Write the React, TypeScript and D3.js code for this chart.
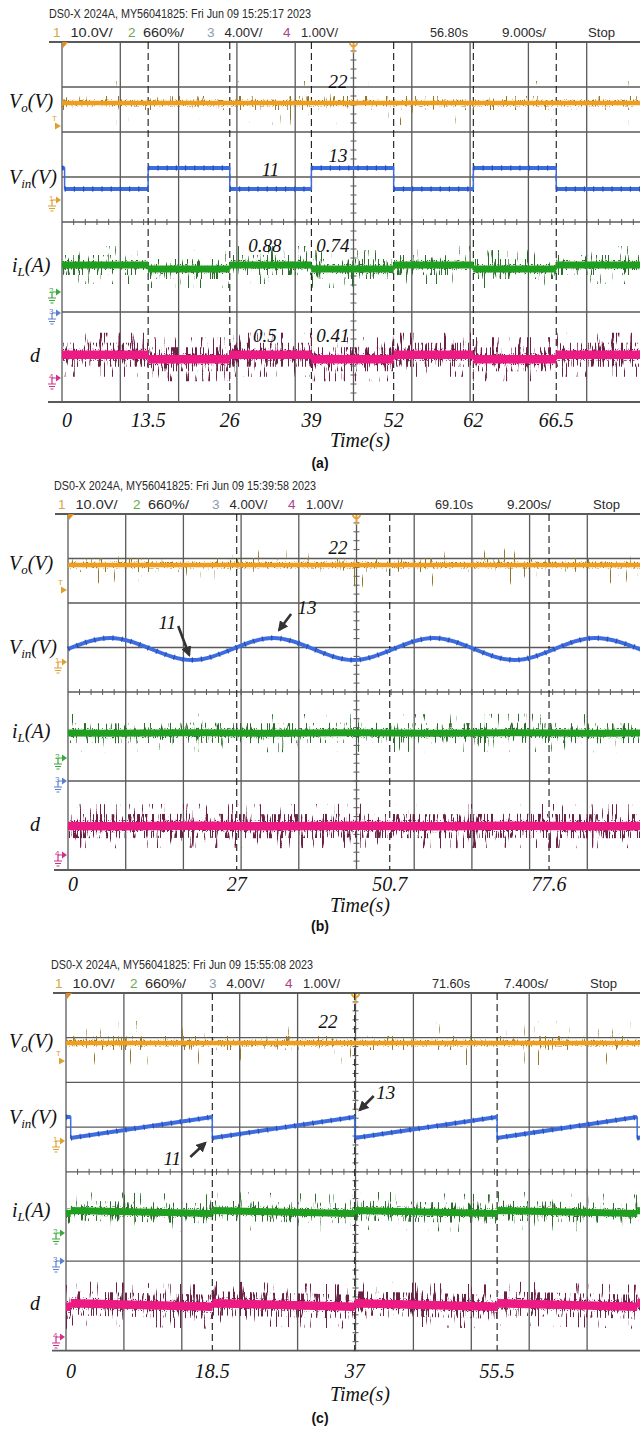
import React from "react";
import * as d3 from "d3";

// ---------- values read from the three scope captures ----------

// (a) step change of the input voltage
const aTimes = [0, 0.4, 13.3, 25.9, 38.5, 51.2, 63.5, 76.3, 90];
const aVin = [13, 11, 13, 11, 13, 11, 13, 11, 11];
const aIL = [0.88, 0.88, 0.74, 0.88, 0.74, 0.88, 0.74, 0.88, 0.88];
const aDuty = [0.5, 0.5, 0.41, 0.5, 0.41, 0.5, 0.41, 0.5, 0.5];
const aMarks = [13.3, 25.9, 38.5, 51.2, 63.5, 76.3];
const aMarkLabels = ["13.5", "26", "39", "52", "62", "66.5"];

// (b) sinusoidal input voltage (extrema)
const bTimes = [0, 6.7, 19.8, 32.7, 45.5, 58.3, 71.2, 84.0, 92];
const bVin = [12, 13, 11, 13, 11, 13, 11, 13, 11.8];
const bIL = [0.81, 0.8, 0.82, 0.8, 0.82, 0.8, 0.82, 0.8, 0.81];
const bDuty = [0.455, 0.45, 0.46, 0.45, 0.46, 0.45, 0.46, 0.45, 0.455];
const bMarks = [26.9, 51.3, 76.7];
const bMarkLabels = ["27", "50.7", "77.6"];

// (c) sawtooth input voltage
const cTimes = [0, 0.6, 0.6, 18.7, 18.7, 36.9, 36.9, 55.1, 55.1, 73.0, 73.0, 74];
const cVin = [13, 13, 11, 13, 11, 13, 11, 13, 11, 13, 11, 11.1];
const cIL = [0.74, 0.74, 0.88, 0.74, 0.88, 0.74, 0.88, 0.74, 0.88, 0.74, 0.88, 0.87];
const cDuty = [0.41, 0.41, 0.5, 0.41, 0.5, 0.41, 0.5, 0.41, 0.5, 0.41, 0.5, 0.49];
const cMarks = [18.7, 36.9, 55.1];
const cMarkLabels = ["18.5", "37", "55.5"];

const outputVoltage = 22;

const headerLines = [
  "DS0-X 2024A, MY56041825: Fri Jun 09 15:25:17 2023",
  "DS0-X 2024A, MY56041825: Fri Jun 09 15:39:58 2023",
  "DS0-X 2024A, MY56041825: Fri Jun 09 15:55:08 2023",
];
const channelScales = ["10.0V/", "660%/", "4.00V/", "1.00V/"];
const delays = ["56.80s", "69.10s", "71.60s"];
const timebases = ["9.000s/", "9.200s/", "7.400s/"];
const timePerDiv = [9, 9.2, 7.4];
const panelTags = ["(a)", "(b)", "(c)"];

const series = [
  { times: aTimes, vin: aVin, il: aIL, duty: aDuty, marks: aMarks, markLabels: aMarkLabels, curve: "step" },
  { times: bTimes, vin: bVin, il: bIL, duty: bDuty, marks: bMarks, markLabels: bMarkLabels, curve: "smooth" },
  { times: cTimes, vin: cVin, il: cIL, duty: cDuty, marks: cMarks, markLabels: cMarkLabels, curve: "linear" },
];

// ---------- layout ----------
const SERIF = '"Liberation Serif", "Times New Roman", Times, serif';
const NARROW = '"Liberation Sans Narrow", "Arial Narrow", "Liberation Sans", Arial, sans-serif';

const layout = [
  { top: 42, divH: 45, left: 62, divW: 58.3, yVo: 103, yVin: 178.5, yIL: 267, yD: 357, vinPx: 10.5, ilPx: 28, dPx: 50,
    markers: [126, 200, 292, 313, 378], dx: 0, tickDy: 25, timeDy: 45, tagDy: 66, vo22: [338, 88], vinLab: 0 },
  { top: 514, divH: 44.5, left: 68, divW: 57.7, yVin: 649, yVo: 565, yIL: 733, yD: 826, vinPx: 11, ilPx: 28, dPx: 50,
    markers: [590, 662, 758, 781, 855], dx: 5, tickDy: 21, timeDy: 42, tagDy: 61, vo22: [338, 554], vinLab: 0 },
  { top: 993, divH: 44.7, left: 66, divW: 57.9, yVo: 1043, yVin: 1127.5, yIL: 1212, yD: 1305, vinPx: 10.5, ilPx: 20, dPx: 40,
    markers: [1061, 1141, 1233, 1261, 1337], dx: 2, tickDy: 27, timeDy: 50, tagDy: 72, vo22: [328, 1028], vinLab: -9 },
];

const traceStyle = {
  vo: { color: "#f09c1e", dark: "#94782a", core: 4.5, fuzzW: 7, fuzzThr: 0.56, s1W: 14, s1Thr: 0.68, s2W: 44, s2Thr: 0.76 },
  vin: { color: "#3d6de0", dark: "#22409c", core: 4 },
  il: { color: "#1f9e1f", dark: "#2c6c2c", core: 7, fuzzW: 10, fuzzThr: 0.56, s1W: 20, s1Thr: 0.62, s2W: 38, s2Thr: 0.71 },
  d: { color: "#ec1a82", dark: "#6c2147", core: 8.5, fuzzW: 12, fuzzThr: 0.55, s1W: 24, s1Thr: 0.57, s2W: 44, s2Thr: 0.66 },
};

const markerColors = ["#e0a030", "#e0a030", "#3aa83a", "#5a7fd0", "#d0308a"];
const markerText = ["T", "1", "2", "3", "4"];

function Noise({ id, y0, freq, seed, thr, slope }: any) {
  return (
    <filter id={id} filterUnits="userSpaceOnUse" primitiveUnits="userSpaceOnUse"
      x={0} y={y0 - 45} width={640} height={90} colorInterpolationFilters="sRGB">
      <feTurbulence type="fractalNoise" baseFrequency={freq} numOctaves={2} seed={seed} result="n" />
      <feColorMatrix in="n" type="matrix" values="0 0 0 0 0  0 0 0 0 0  0 0 0 0 0  1 0 0 0 0" result="r" />
      <feComponentTransfer in="r" result="m">
        <feFuncA type="linear" slope={slope} intercept={-slope * thr} />
      </feComponentTransfer>
      <feComposite in="SourceGraphic" in2="m" operator="in" />
    </filter>
  );
}

function Trace({ id, times, values, x, y, curve, st, yc, seed }: any) {
  const pts = times.map((t: number, i: number) => [x(t), y(values[i])] as [number, number]);
  const gen = d3.line().curve(curve === "smooth" ? d3.curveMonotoneX : curve === "step" ? d3.curveStepAfter : d3.curveLinear);
  const full = gen(pts) || "";
  // the wide band follows the trace in time, the jumps stay hairline
  let band = "";
  if (curve === "smooth") band = full;
  else {
    for (let i = 0; i < pts.length - 1; i++) {
      const [x0, y0] = pts[i];
      const [x1, y1] = pts[i + 1];
      if (curve === "step") band += `M${x0},${y0}H${x1}`;
      else if (x1 > x0) band += `M${x0},${y0}L${x1},${y1}`;
    }
  }
  return (
    <g fill="none">
      {st.s1W && (
        <defs>
          <Noise id={`${id}-s2`} y0={yc} freq="0.5 0.022" seed={seed} thr={st.s2Thr} slope={20} />
          <Noise id={`${id}-s1`} y0={yc} freq="0.6 0.035" seed={seed + 1} thr={st.s1Thr} slope={20} />
          <Noise id={`${id}-fz`} y0={yc} freq="0.9 0.5" seed={seed + 2} thr={st.fuzzThr} slope={12} />
        </defs>
      )}
      {st.s1W && <path d={band} stroke={st.dark} strokeWidth={st.s2W} filter={`url(#${id}-s2)`} />}
      {st.s1W && <path d={band} stroke={st.dark} strokeWidth={st.s1W} filter={`url(#${id}-s1)`} />}
      {st.s1W && <path d={band} stroke={st.dark} strokeWidth={st.fuzzW} filter={`url(#${id}-fz)`} />}
      <path d={band} stroke={st.color} strokeWidth={st.core} />
      <path d={full} stroke={st.color} strokeWidth={1.5} />
      {!st.s1W && (
        <path d={band} stroke={st.dark} strokeWidth={st.core + 1.5} strokeDasharray="1.2 8" opacity={0.75} />
      )}
    </g>
  );
}

function GroundMarker({ x, y, color, label, kind }: any) {
  if (kind === "T") {
    return (
      <g fill={color}>
        <text x={x - 9} y={y - 5} fontSize={8} fontFamily="Liberation Sans, Arial, sans-serif">{label}</text>
        <path d={`M${x - 6},${y - 3.5}L${x},${y}L${x - 6},${y + 3.5}Z`} />
      </g>
    );
  }
  return (
    <g>
      <text x={x - 12} y={y + 1} fontSize={8} fill={color} fontFamily="Liberation Sans, Arial, sans-serif">{label}</text>
      <path d={`M${x - 5},${y - 3.5}L${x},${y}L${x - 5},${y + 3.5}Z`} fill={color} />
      <path d={`M${x - 9},${y}H${x - 4}M${x - 9},${y}V${y + 6}M${x - 13},${y + 6}H${x - 5}M${x - 12},${y + 8.5}H${x - 6}M${x - 10.5},${y + 11}H${x - 7.5}`}
        stroke={color} strokeWidth={1.2} fill="none" />
    </g>
  );
}

function Panel({ i }: { i: number }) {
  const L = layout[i];
  const s = series[i];
  const tMax = timePerDiv[i] * 10;
  const x = d3.scaleLinear().domain([0, tMax]).range([L.left, L.left + 10 * L.divW]);
  const row = (r: number) => L.top + r * L.divH;
  const bottom = row(8);
  const cx = x(tMax / 2);
  const cy = row(4);

  const yVo = d3.scaleLinear().domain([outputVoltage, outputVoltage + 10]).range([L.yVo, L.yVo - L.divH]);
  const yVin = d3.scaleLinear().domain([12, 13]).range([L.yVin, L.yVin - L.vinPx]);
  const yIL = d3.scaleLinear().domain([0.81, 0.91]).range([L.yIL, L.yIL - L.ilPx * 0.1]);
  const yD = d3.scaleLinear().domain([0.455, 0.555]).range([L.yD, L.yD - L.dPx * 0.1]);

  const cols = d3.range(0, 10).map((k) => x(k * timePerDiv[i]));
  const rows = [0, 1, 2, 3, 4, 6, 8];
  const hTicks = d3.range(-25, 26).map((k) => cx + (k * L.divW) / 5).filter((v) => v > L.left && v < 640);
  const vTicks = d3.range(-20, 21).map((k) => cy + (k * L.divH) / 5);

  const hdr = [
    { t: "1", x: 53, c: "#d9a441" },
    { t: channelScales[0], x: 70.5, w: 42 },
    { t: "2", x: 128, c: "#6aa84f" },
    { t: channelScales[1], x: 143, w: 41 },
    { t: "3", x: 207, c: "#8c9bb0" },
    { t: channelScales[2], x: 224.5, w: 38 },
    { t: "4", x: 283, c: "#a8448e" },
    { t: channelScales[3], x: 301, w: 37 },
    { t: delays[i], x: 430, w: 38 },
    { t: timebases[i], x: 502, w: 44 },
    { t: "Stop", x: 588, w: 27 },
  ];

  const voTimes = [0, tMax];
  const voVals = [outputVoltage, outputVoltage];
  const seed = i * 20 + 3;

  return (
    <g>
      {/* header */}
      <text x={49 + L.dx} y={L.top - 24} fontFamily={NARROW} fontSize={12.5} fill="#2a2a2a"
        textLength={262} lengthAdjust="spacingAndGlyphs">{headerLines[i]}</text>
      {hdr.map((h, k) => (
        <text key={k} x={h.x + L.dx} y={L.top - 5.5} fontFamily={NARROW} fontSize={13.5} fill={h.c || "#2a2a2a"}
          {...(h.w ? { textLength: h.w, lengthAdjust: "spacingAndGlyphs" } : {})}>{h.t}</text>
      ))}

      {/* graticule */}
      <g stroke="#5a5a5a" strokeWidth={1.3}>
        {cols.map((cxv, k) => (
          <line key={k} x1={cxv} x2={cxv} y1={L.top} y2={bottom} />
        ))}
        {rows.map((r) => (
          <line key={r} x1={r === 0 ? L.left - 13 : r === 8 ? L.left - 14 : L.left} x2={640} y1={row(r)} y2={row(r)}
            strokeWidth={r === 0 || r === 8 ? 1.8 : 1.3} />
        ))}
        {hTicks.map((v, k) => (
          <line key={`h${k}`} x1={v} x2={v} y1={cy - 3} y2={cy + 3} strokeWidth={1} />
        ))}
        {vTicks.map((v, k) => (
          <line key={`v${k}`} x1={cx - 3} x2={cx + 3} y1={v} y2={v} strokeWidth={1} />
        ))}
      </g>
      <path d={`M${L.left},${L.top}L${L.left + 6},${L.top}L${L.left + 1},${L.top + 6}Z`} fill="#e88a1a" />
      <path d={`M${cx - 4},${L.top + 1}Q${cx},${L.top + 8} ${cx + 4},${L.top + 1}M${cx},${L.top + 1}V${L.top + 11}`}
        stroke="#e8a030" strokeWidth={1.6} fill="none" />

      {/* event markers */}
      {s.marks.map((t, k) => (
        <line key={k} x1={x(t)} x2={x(t)} y1={L.top} y2={bottom} stroke="#1a1a1a" strokeWidth={1.1} strokeDasharray="7 4" />
      ))}

      {/* traces */}
      <Trace id={`p${i}-vo`} times={voTimes} values={voVals} x={x} y={yVo} curve="linear" st={traceStyle.vo} yc={L.yVo} seed={seed} />
      <Trace id={`p${i}-vin`} times={s.times} values={s.vin} x={x} y={yVin} curve={s.curve} st={traceStyle.vin} yc={L.yVin} seed={seed + 4} />
      <Trace id={`p${i}-il`} times={s.times} values={s.il} x={x} y={yIL} curve={s.curve} st={traceStyle.il} yc={L.yIL} seed={seed + 8} />
      <Trace id={`p${i}-d`} times={s.times} values={s.duty} x={x} y={yD} curve={s.curve} st={traceStyle.d} yc={L.yD} seed={seed + 12} />

      {/* channel markers */}
      {L.markers.map((my, k) => (
        <GroundMarker key={k} x={L.left - 1} y={my} color={markerColors[k]} label={markerText[k]} kind={k === 0 ? "T" : "g"} />
      ))}

      {/* left labels */}
      <g fontFamily={SERIF} fontStyle="italic" fontSize={20} fill="#111">
        <text x={9} y={L.yVo + 5}>V<tspan fontSize={13} dy={4}>o</tspan><tspan dy={-4}>(V)</tspan></text>
        <text x={9} y={L.yVin + 5 + L.vinLab}>V<tspan fontSize={13} dy={4}>in</tspan><tspan dy={-4}>(V)</tspan></text>
        <text x={12} y={L.yIL + 5}>i<tspan fontSize={13} dy={4}>L</tspan><tspan dy={-4}>(A)</tspan></text>
        <text x={30} y={L.yD + 5}>d</text>
      </g>

      {/* time labels */}
      <g fontFamily={SERIF} fontStyle="italic" fontSize={20} fill="#111" textAnchor="middle">
        <text x={x(0) + 5} y={bottom + L.tickDy}>0</text>
        {s.markLabels.map((lab, k) => (
          <text key={k} x={x(s.marks[k])} y={bottom + L.tickDy}>{lab}</text>
        ))}
        <text x={360} y={bottom + L.timeDy}>Time(s)</text>
      </g>
      <text x={320} y={bottom + L.tagDy} textAnchor="middle" fontFamily="Liberation Sans, Arial, sans-serif"
        fontWeight="bold" fontSize={14} fill="#111">{panelTags[i]}</text>

      {/* value notes */}
      <g fontFamily={SERIF} fontStyle="italic" fontSize={19} fill="#111" textAnchor="middle">
        <text x={L.vo22[0]} y={L.vo22[1]}>{outputVoltage}</text>
      </g>
    </g>
  );
}

export default function App() {
  // value notes, anchored to the trace scales
  const La = layout[0];
  const xa = d3.scaleLinear().domain([0, 90]).range([La.left, La.left + 10 * La.divW]);
  const yaVin = d3.scaleLinear().domain([12, 13]).range([La.yVin, La.yVin - La.vinPx]);
  const yaIL = d3.scaleLinear().domain([0.81, 0.91]).range([La.yIL, La.yIL - La.ilPx * 0.1]);
  const yaD = d3.scaleLinear().domain([0.455, 0.555]).range([La.yD, La.yD - La.dPx * 0.1]);

  const Lb = layout[1];
  const xb = d3.scaleLinear().domain([0, 92]).range([Lb.left, Lb.left + 10 * Lb.divW]);
  const ybVin = d3.scaleLinear().domain([12, 13]).range([Lb.yVin, Lb.yVin - Lb.vinPx]);

  const Lc = layout[2];
  const xc = d3.scaleLinear().domain([0, 74]).range([Lc.left, Lc.left + 10 * Lc.divW]);
  const ycVin = d3.scaleLinear().domain([12, 13]).range([Lc.yVin, Lc.yVin - Lc.vinPx]);

  const bLow = [xb(bTimes[2]), ybVin(bVin[2])];
  const bHigh = [xb(bTimes[3]), ybVin(bVin[3])];
  const cLow = [xc(cTimes[3]), ycVin(cVin[4])];
  const cHigh = [xc(cTimes[5]), ycVin(cVin[5])];

  return (
    <svg width={640} height={1430} style={{ position: "absolute", left: 0, top: 0, background: "#fff" }}>
      <defs>
        <marker id="ah" viewBox="0 0 10 10" refX={8} refY={5} markerWidth={4} markerHeight={4} orient="auto">
          <path d="M0,0L10,5L0,10z" fill="#333" />
        </marker>
      </defs>
      <rect width={640} height={1430} fill="#fff" />
      {[0, 1, 2].map((i) => (
        <Panel key={i} i={i} />
      ))}

      <g fontFamily={SERIF} fontStyle="italic" fontSize={19} fill="#111" textAnchor="middle">
        <text x={xa(32.2)} y={yaVin(13) + 8}>{aVin[3]}</text>
        <text x={xa(42.6)} y={yaVin(13) - 6}>{aVin[4]}</text>
        <text x={xa(31.3)} y={yaIL(0.88) - 13}>{aIL[3].toFixed(2)}</text>
        <text x={xa(41.8)} y={yaIL(0.88) - 13}>{aIL[4].toFixed(2)}</text>
        <text x={xa(31.3)} y={yaD(0.5) - 13}>{aDuty[3]}</text>
        <text x={xa(41.8)} y={yaD(0.5) - 13}>{aDuty[4]}</text>

        <text x={bLow[0] - 25} y={bLow[1] - 31}>{bVin[2]}</text>
        <text x={bHigh[0] + 34} y={bHigh[1] - 24}>{bVin[3]}</text>
        <text x={cLow[0] - 40} y={cLow[1] + 27}>{cVin[4]}</text>
        <text x={cHigh[0] + 31} y={cHigh[1] - 18}>{cVin[5]}</text>
      </g>
      <g stroke="#333" strokeWidth={2.6} markerEnd="url(#ah)">
        <line x1={bLow[0] - 14} y1={bLow[1] - 34} x2={bLow[0] - 3} y2={bLow[1] - 5} />
        <line x1={bHigh[0] + 18} y1={bHigh[1] - 24} x2={bHigh[0] + 6} y2={bHigh[1] - 8} />
        <line x1={cLow[0] - 22} y1={cLow[1] + 19} x2={cLow[0] - 7} y2={cLow[1] + 5} />
        <line x1={cHigh[0] + 19} y1={cHigh[1] - 21} x2={cHigh[0] + 5} y2={cHigh[1] - 7} />
      </g>
    </svg>
  );
}
